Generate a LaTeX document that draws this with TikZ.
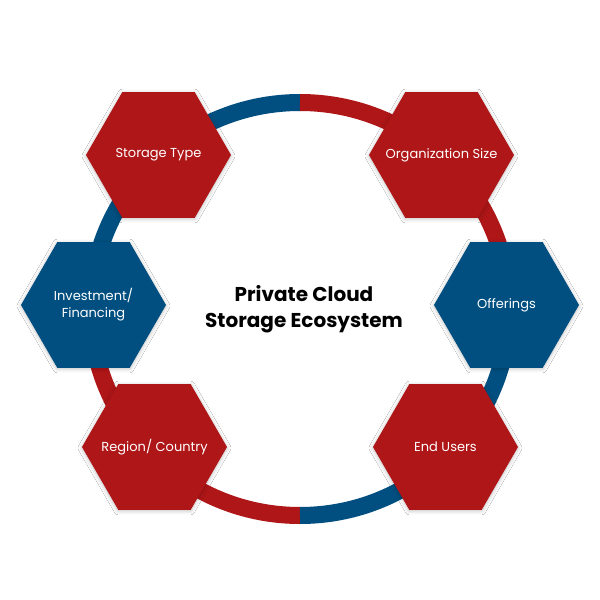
\documentclass[tikz,border=0pt]{standalone}
\usepackage{fontspec}
\setmainfont{Poppins}
\usepackage{xcolor}
\usepackage{tikz}
\usetikzlibrary{shapes.geometric, shadows.blur}
\definecolor{ecored}{RGB}{175,22,24}
\definecolor{ecoblue}{RGB}{0,79,128}
\tikzstyle{hex} = [regular polygon, regular polygon sides=6, minimum size=145pt, inner sep=-20pt, text=white, align=center, font=\fontsize{13}{17}\selectfont, blur shadow={shadow xshift=0pt, shadow yshift=-1pt, shadow blur radius=4pt, shadow blur steps=8, shadow opacity=25}]
\tikzstyle{redhex} = [hex, fill=ecored]
\tikzstyle{bluehex} = [hex, fill=ecoblue]
\tikzstyle{ring} = [line width=17pt]
\newcommand{\ringarc}[3]{\draw[ring,#1] (#2:209 and 206.5) arc[start angle=#2, end angle=#3, x radius=209, y radius=206.5];}

\begin{document}
\begin{tikzpicture}[x=1pt,y=1pt]
            \fill[white] (-300,-291) rectangle (300,309);
            \ringarc{ecoblue}{90}{180}
            \ringarc{ecored}{180}{270}
            \ringarc{ecoblue}{270}{360}
            \ringarc{ecored}{0}{90}
            \node[font=\fontsize{20}{26}\selectfont\bfseries, align=center] (title) at (4,0) {Private Cloud\\Storage Ecosystem};
            \node[redhex] (storage) at (-141.5,154) {Storage Type};
            \node[redhex] (orgsize) at (141.5,154) {Organization Size};
            \node[bluehex] (invest) at (-206.5,4) {Investment/\\Financing};
            \node[bluehex] (offer) at (206.5,4) {Offerings};
            \node[redhex] (region) at (-145.5,-138) {Region/ Country};
            \node[redhex] (users) at (145.5,-138) {End Users};
        \end{tikzpicture}
\end{document}
